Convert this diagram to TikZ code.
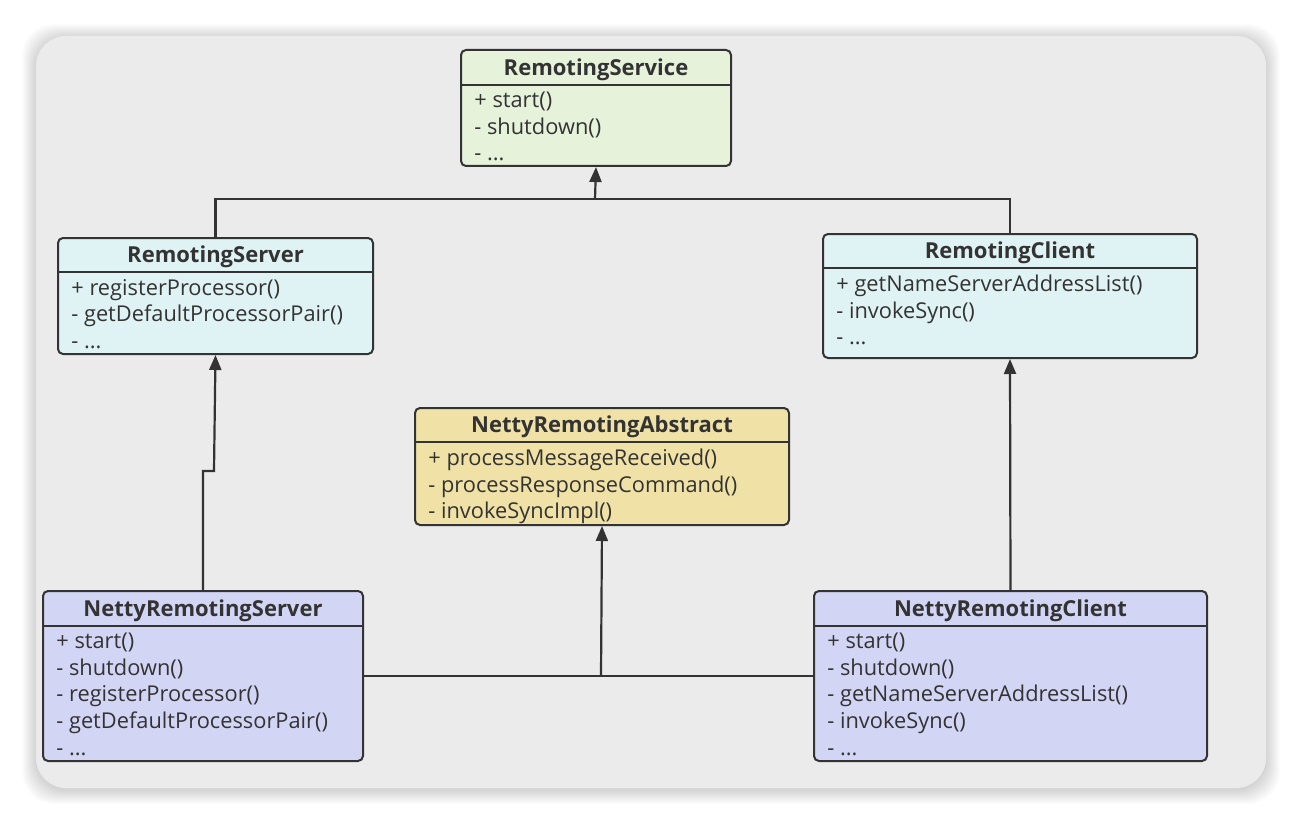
\documentclass[tikz,border=0pt]{standalone}
\usepackage{fontspec}
\setmainfont{Open Sans}
\usetikzlibrary{arrows.meta,calc}
\definecolor{linecol}{HTML}{333333}
\definecolor{panel}{HTML}{EBEBEB}
\definecolor{ifacegreen}{HTML}{E6F2DA}
\definecolor{ifacecyan}{HTML}{E0F3F4}
\definecolor{abstractyellow}{HTML}{F0E2A6}
\definecolor{implblue}{HTML}{D3D5F5}
\tikzset{
  classbox/.style={draw=linecol, line width=1pt, rounded corners=2.5pt, inner sep=0pt, anchor=north west},
  classname/.style={font=\bfseries\fontsize{11}{12}\selectfont, text=linecol, inner sep=0pt},
  members/.style={font=\fontsize{10.9}{13.3}\selectfont, text=linecol, align=left, anchor=north west, inner sep=0pt},
  link/.style={draw=linecol, line width=1.1pt},
  inherit/.style={link, -{Triangle[width=6pt,length=7.5pt]}}
}

\begin{document}
\begin{tikzpicture}[x=0.5pt, y=-0.5pt]
    % Page and panel
    \useasboundingbox (0,0) rectangle (1302,824);
    \fill[white] (0,0) rectangle (1302,824);
    \foreach \d in {1,...,14}
        \fill[black, opacity=0.012, rounded corners=16pt] (36-\d,38-\d) rectangle (1266+\d,790+\d);
    \fill[panel, rounded corners=15pt] (36,36) rectangle (1266,788);

    % First we draw the classes
    \foreach \name/\x/\y/\w/\h/\hh/\col/\title/\body in {
        service/460/49/270/116/36/ifacegreen/RemotingService/{+ start()\\- shutdown()\\- ...},
        rserver/57/237/315/116/35/ifacecyan/RemotingServer/{+ registerProcessor()\\- getDefaultProcessorPair()\\- ...},
        rclient/822/233/374/124/35/ifacecyan/RemotingClient/{+ getNameServerAddressList()\\- invokeSync()\\- ...},
        abstract/414/407/374/117/35/abstractyellow/NettyRemotingAbstract/{+ processMessageReceived()\\- processResponseCommand()\\- invokeSyncImpl()},
        nserver/42/590/320/170/36/implblue/NettyRemotingServer/{+ start()\\- shutdown()\\- registerProcessor()\\- getDefaultProcessorPair()\\- ...},
        nclient/813/590/393/170/36/implblue/NettyRemotingClient/{+ start()\\- shutdown()\\- getNameServerAddressList()\\- invokeSync()\\- ...}}
    {
        \node[classbox, fill=\col, minimum width=\w*0.5pt, minimum height=\h*0.5pt] (\name) at (\x,\y) {};
        \draw[linecol, line width=1pt] ([yshift=-\hh*0.5pt]\name.north west) -- ([yshift=-\hh*0.5pt]\name.north east);
        \node[classname] (\name-title) at ([yshift=-\hh*0.25pt-1.3pt]\name.north) {\title};
        \node[members] (\name-members) at ([xshift=7pt, yshift=-\hh*0.5pt-3.4pt]\name.north west) {\body};
    }

    % Junction points of the connectors
    \coordinate (top bus) at (595,199);
    \coordinate (jog) at (214,471);
    \coordinate (bottom bus) at (601,676);

    % Interfaces
    \path[link] (rserver.north) |- (top bus) -| (rclient.north);
    \path[inherit] (top bus) -- (service.south);

    % Implementations
    \path[inherit] (nserver.north) |- (jog) -- (rserver.south);
    \path[inherit] (nclient.north) -- (rclient.south);
    \path[link] (bottom bus -| nserver.east) -- (bottom bus -| nclient.west);
    \path[inherit] (bottom bus) -- (abstract.south);
\end{tikzpicture}
\end{document}
